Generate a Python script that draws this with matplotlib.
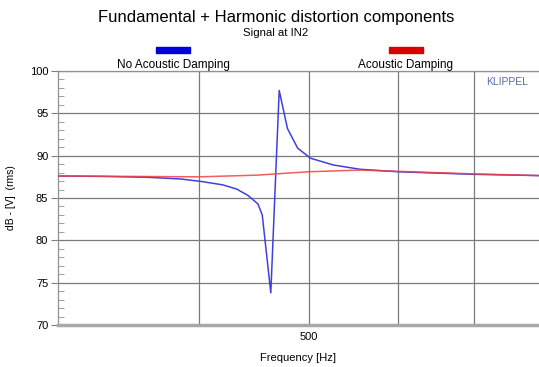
import matplotlib
matplotlib.use("Agg")
import matplotlib.pyplot as plt
from matplotlib.patches import Rectangle
from matplotlib.ticker import FixedLocator, MultipleLocator, NullFormatter

plt.rcParams['font.family'] = ['Liberation Sans', 'DejaVu Sans']

# measured curves
freq_blue = [300, 330, 360, 385, 402, 420, 432, 442, 451, 455, 463, 471, 479,
             489, 502, 526, 555, 600, 700, 800]
lvl_blue = [87.6, 87.55, 87.45, 87.25, 86.95, 86.55, 86.05, 85.3, 84.3, 83.0,
            73.8, 97.7, 93.2, 90.9, 89.7, 88.9, 88.4, 88.1, 87.8, 87.65]

freq_red = [300, 350, 400, 450, 500, 555, 600, 700, 800]
lvl_red = [87.6, 87.55, 87.5, 87.7, 88.1, 88.3, 88.15, 87.85, 87.65]

series_names = ['No Acoustic Damping', 'Acoustic Damping']
series_colors = ['#4040e0', '#f04040']
legend_colors = ['#0000d8', '#d80000']

xgrid = [400, 500, 600, 700]
xlabels = {500: '500'}

fig = plt.figure(figsize=(5.39, 3.67), dpi=100)
ax = fig.add_axes([0.1076, 0.1144, 0.8924, 0.6921])

ax.plot(freq_blue, lvl_blue, color=series_colors[0], lw=1.1, zorder=3)
ax.plot(freq_red, lvl_red, color=series_colors[1], lw=1.1, alpha=0.85, zorder=4)

ax.set_xscale('log')
ax.set_xlim(300, 800)
ax.set_ylim(70, 100)

ax.xaxis.set_major_locator(FixedLocator(xgrid))
ax.xaxis.set_minor_locator(FixedLocator([]))
ax.set_xticklabels([xlabels.get(f, '') for f in xgrid])
ax.tick_params(axis='x', length=0, labelsize=8, pad=5)

ax.yaxis.set_major_locator(MultipleLocator(5))
ax.yaxis.set_minor_locator(MultipleLocator(1))
ax.yaxis.set_minor_formatter(NullFormatter())
ax.tick_params(axis='y', which='major', length=5, color='#808080', labelsize=8, pad=2)
ax.tick_params(axis='y', which='minor', direction='in', length=4, color='#909090')

ax.grid(True, which='major', color='#7a7a7a', lw=0.9)

for side in ['top', 'left']:
    ax.spines[side].set_color('#909090')
    ax.spines[side].set_linewidth(0.9)
ax.spines['right'].set_visible(False)
ax.spines['bottom'].set_color('#a8a8a8')
ax.spines['bottom'].set_linewidth(2.5)

ax.set_xlabel('Frequency [Hz]', fontsize=8, labelpad=8)
ax.set_ylabel('dB - [V]  (rms)', fontsize=7.5, labelpad=10)

ax.text(0.933, 0.957, 'KLIPPEL', transform=ax.transAxes, color='#5a68a8',
        fontsize=7.5, ha='center', va='center')

fig.text(0.512, 0.951, 'Fundamental + Harmonic distortion components',
         fontsize=12, ha='center', va='center')
fig.text(0.512, 0.91, 'Signal at IN2', fontsize=8.2, ha='center', va='center')

# legend: colour bar above each series name
legend_x = [0.321, 0.753]
for name, col, cx in zip(series_names, legend_colors, legend_x):
    fig.patches.append(Rectangle((cx - 0.032, 0.855), 0.064, 0.016,
                                 transform=fig.transFigure, color=col))
    fig.text(cx, 0.823, name, fontsize=8.5, ha='center', va='center')

fig.savefig('out.png', dpi=100)
